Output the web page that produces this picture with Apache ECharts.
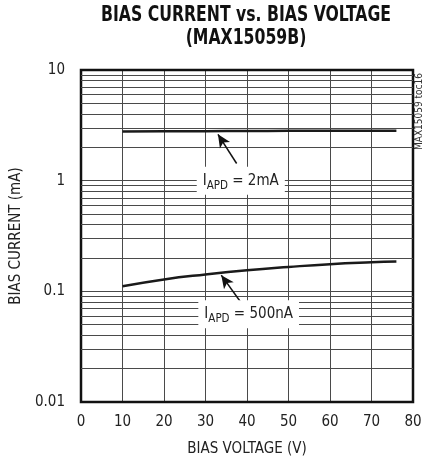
<!DOCTYPE html>
<html><head><meta charset="utf-8">
<script src="https://cdn.jsdelivr.net/npm/echarts@6/dist/echarts.min.js"></script>
<style>html,body{margin:0;padding:0;background:#fff}#c{width:426px;height:464px}</style>
</head><body><div id="c"></div>
<script>
const FONT = "'Liberation Sans Narrow','DejaVu Sans Condensed','Roboto',sans-serif";
const voltage = [10, 20, 30, 40, 50, 60, 70, 76];
const current2mA = [2.78, 2.79, 2.80, 2.81, 2.82, 2.82, 2.83, 2.83];
const current500nA = [0.111, 0.128, 0.142, 0.155, 0.166, 0.176, 0.183, 0.186];
const xTicks = [0, 10, 20, 30, 40, 50, 60, 70, 80];
const yTicks = [0.01, 0.1, 1, 10];
const minorY = [0.02,0.03,0.04,0.05,0.06,0.07,0.08,0.09,0.2,0.3,0.4,0.5,0.6,0.7,0.8,0.9,2,3,4,5,6,7,8,9];
const titleLines = ['BIAS CURRENT vs. BIAS VOLTAGE', '(MAX15059B)'];
const xName = 'BIAS VOLTAGE (V)';
const yName = 'BIAS CURRENT (mA)';
const sideNote = 'MAX15059 toc16';
// annotation anchors in data space
const note1 = {label: '2mA', at: [38.5, 1.0], arrowFrom: [37.5, 1.43], arrowTo: [33.0, 2.62]};
const note2 = {label: '500nA', at: [40.4, 0.062], arrowFrom: [38.9, 0.076], arrowTo: [33.8, 0.140]};

const chart = echarts.init(document.getElementById('c'), null, {renderer: 'canvas'});
const gridColor = '#4a4a4a';
const pair = (a, b) => a.map((v, i) => [v, b[i]]);
function noteLabel(n) {
  return {
    coord: n.at, symbolSize: 0,
    label: {
      show: true, position: 'inside',
      formatter: '{a|I}{b|APD}{a| = ' + n.label + '}',
      backgroundColor: '#fff', padding: [3, 6, 3, 6],
      rich: {
        a: {fontFamily: FONT, fontSize: 15, color: '#222', lineHeight: 22, verticalAlign: 'middle'},
        b: {fontFamily: FONT, fontSize: 11.5, color: '#222', lineHeight: 22, verticalAlign: 'bottom', padding: [6, 0, 0, 0]}
      }
    }
  };
}
function arrow(n) { return [{coord: n.arrowFrom}, {coord: n.arrowTo}]; }

chart.setOption({
  animation: false,
  backgroundColor: '#fff',
  grid: {left: 81, right: 13, top: 70, bottom: 62, show: true, borderColor: '#111', borderWidth: 2.5, z: 5},
  graphic: [
    {type: 'text', x: 246, y: 5, scaleX: 0.83, z: 10, style: {text: titleLines[0], font: 'bold 21px ' + FONT, fill: '#111', textAlign: 'center'}},
    {type: 'text', x: 246, y: 28, scaleX: 0.83, z: 10, style: {text: titleLines[1], font: 'bold 21px ' + FONT, fill: '#111', textAlign: 'center'}},
    {type: 'text', x: 414, y: 150, rotation: Math.PI / 2, z: 10, style: {text: sideNote, font: '10px ' + FONT, fill: '#333'}}
  ],
  xAxis: {
    type: 'value', min: xTicks[0], max: xTicks[xTicks.length - 1], interval: 10,
    name: xName, nameLocation: 'middle', nameGap: 40,
    nameTextStyle: {fontFamily: FONT, fontSize: 15, color: '#222'},
    axisLine: {show: false}, axisTick: {show: false},
    axisLabel: {margin: 13, fontFamily: FONT, fontSize: 15, color: '#222'},
    splitLine: {show: true, lineStyle: {color: gridColor, width: 1}}
  },
  yAxis: {
    type: 'log', logBase: 10, min: yTicks[0], max: yTicks[yTicks.length - 1],
    name: yName, nameLocation: 'middle', nameGap: 52,
    nameTextStyle: {fontFamily: FONT, fontSize: 15, color: '#222'},
    axisLine: {show: false}, axisTick: {show: false},
    axisLabel: {margin: 16, fontFamily: FONT, fontSize: 15, color: '#222', padding: [4, 0, 0, 0], formatter: v => String(+v.toPrecision(3))},
    splitLine: {show: true, lineStyle: {color: gridColor, width: 1}}
  },
  series: [
    {
      type: 'line', data: [], z: 1, silent: true,
      markLine: {silent: true, symbol: ['none', 'none'], label: {show: false},
        lineStyle: {color: gridColor, width: 1, type: 'solid'},
        data: minorY.map(v => ({yAxis: v}))}
    },
    {type: 'line', data: pair(voltage, current2mA), smooth: true, showSymbol: false, z: 3,
     lineStyle: {color: '#1a1a1a', width: 2.5}},
    {type: 'line', data: pair(voltage, current500nA), smooth: true, showSymbol: false, z: 3,
     lineStyle: {color: '#1a1a1a', width: 2.5}},
    {
      type: 'line', data: [], z: 4,
      markLine: {silent: true, symbol: ['none', 'arrow'], symbolSize: [9, 13], label: {show: false},
        lineStyle: {color: '#111', width: 1.5, type: 'solid'},
        data: [arrow(note1), arrow(note2)]},
      markPoint: {silent: true, symbol: 'circle', symbolSize: 0, data: [noteLabel(note1), noteLabel(note2)]}
    }
  ]
});
</script></body></html>
